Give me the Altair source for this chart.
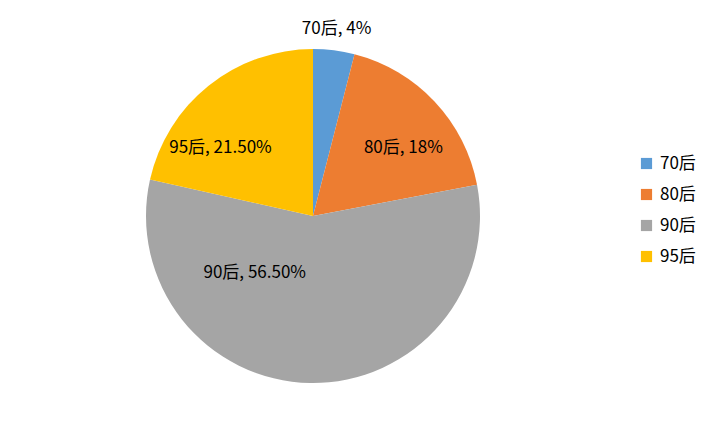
import altair as alt
import pandas as pd

categories = ["70后", "80后", "90后", "95后"]
values = [4, 18, 56.5, 21.5]
label_texts = ["70后, 4%", "80后, 18%", "90后, 56.50%", "95后, 21.50%"]
colors = ["#5B9BD5", "#ED7D31", "#A5A5A5", "#FFC000"]

df = pd.DataFrame({
    "cat": categories,
    "val": values,
    "label": label_texts,
    "order": list(range(len(categories))),
})

CX, CY, R = 305, 208, 167
FONT = "Noto Sans CJK SC"

theta_scale = alt.Scale(domain=[0, sum(values)])

base = alt.Chart(df).transform_window(
    v1="sum(val)", sort=[alt.SortField("order")],
    frame=[None, 0],
).transform_calculate(
    v0="datum.v1 - datum.val",
    vm="datum.v1 - datum.val / 2",
)

pie = base.mark_arc(outerRadius=R, x=CX, y=CY).encode(
    theta=alt.Theta("v0:Q", scale=theta_scale, stack=None),
    theta2="v1:Q",
    color=alt.Color(
        "cat:N",
        scale=alt.Scale(domain=categories, range=colors),
        sort=categories,
        legend=alt.Legend(
            title=None,
            orient="none",
            legendX=630,
            legendY=147,
            symbolType="square",
            symbolSize=125,
            symbolStrokeWidth=0,
            labelFontSize=17,
            labelFont=FONT,
            labelColor="#000000",
            rowPadding=13,
            labelOffset=5,
            padding=0,
        ),
    ),
)

def label_layer(cat, radius, dx, dy):
    return base.transform_filter(alt.datum.cat == cat).mark_text(
        radius=radius, x=CX, y=CY, dx=dx, dy=dy,
        fontSize=17, font=FONT, color="#000000",
    ).encode(
        theta=alt.Theta("vm:Q", scale=theta_scale, stack=None),
        text="label:N",
    )

labels = (
    label_layer("70后", 188, 0, 0)
    + label_layer("80后", 113, 8, 9)
    + label_layer("90后", 80, -57, -23)
    + label_layer("95后", 116, -20, 23)
)

chart = alt.layer(pie, labels).properties(
    width=703, height=416, padding=0
).configure_view(stroke="#D9D9D9", strokeWidth=1).configure(background="white")

chart.save("out.html", embed_options={"renderer": "svg", "actions": False})
